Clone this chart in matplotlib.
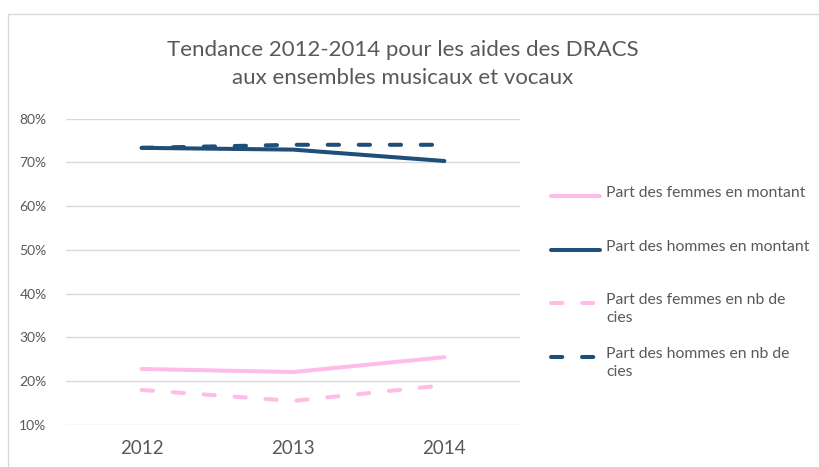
import matplotlib.pyplot as plt
from matplotlib.patches import Rectangle
from matplotlib.lines import Line2D

# data
years = ["2012", "2013", "2014"]
femmes_montant = [22.8, 22.1, 25.5]
hommes_montant = [73.3, 72.9, 70.3]
femmes_cies = [18.0, 15.5, 19.1]
hommes_cies = [73.3, 74.0, 74.0]
labels = ["Part des femmes en montant", "Part des hommes en montant",
          "Part des femmes en nb de\ncies", "Part des hommes en nb de\ncies"]

pink = "#FFBCE8"
blue = "#1F4E79"
grey_txt = "#595959"

plt.rcParams['font.family'] = ['Lato', 'DejaVu Sans']

W, H = 819, 467
fig = plt.figure(figsize=(W / 100, H / 100), dpi=100)
ax = fig.add_axes([0.0806, 0.0899, 0.5544, 0.6563])

# outer chart border
fig.patches.append(Rectangle((8 / W, -0.1), 1.1, 1 - 14 / H + 0.1,
                             transform=fig.transFigure, fill=False,
                             edgecolor="#D9D9D9", lw=1))

x = range(len(years))
lw = 2.9
dash = (2.8, 4.9)
series = [femmes_montant, hommes_montant, femmes_cies, hommes_cies]
colors = [pink, blue, pink, blue]
styles = [None, None, dash, dash]
lines = []
for vals, c, d, lab in zip(series, colors, styles, labels):
    if d is None:
        ln, = ax.plot(x, vals, color=c, lw=lw, solid_capstyle='round', label=lab)
    else:
        ln, = ax.plot(x, vals, color=c, lw=lw, dashes=d, dash_capstyle='round', label=lab)
    lines.append(ln)

ax.set_xlim(-0.5, 2.5)
ax.set_ylim(10, 80)
ax.set_yticks(range(10, 81, 10))
ax.set_yticklabels([f"{v}%" for v in range(10, 81, 10)], fontsize=10, color=grey_txt)
ax.set_xticks(list(x))
ax.set_xticklabels(years, fontsize=13.5, color=grey_txt)
ax.tick_params(length=0)
ax.tick_params(axis='y', pad=14)
ax.tick_params(axis='x', pad=11)
ax.grid(axis='y', color="#D9D9D9", lw=1)
ax.set_axisbelow(True)
for s in ax.spines.values():
    s.set_visible(False)

fig.text(403 / W, 1 - 64 / H, "Tendance 2012-2014 pour les aides des DRACS\naux ensembles musicaux et vocaux",
         ha='center', va='center', multialignment='center', fontsize=16,
         color=grey_txt, linespacing=1.55)

# legend (handle aligned with first text line, like the original)
leg_y = [196, 250, 303, 357]
for ln, lab, yy in zip(lines, labels, leg_y):
    yf = 1 - yy / H
    h = Line2D([551 / W, 600 / W], [yf, yf], transform=fig.transFigure,
               color=ln.get_color(), lw=lw, solid_capstyle='round',
               dash_capstyle='round')
    if ln.get_linestyle() != '-':
        h.set_dashes(dash)
    fig.add_artist(h)
    fig.text(606 / W, yf + 10 / H, lab, ha='left', va='top', fontsize=11.3,
             color=grey_txt, linespacing=1.4)

fig.savefig("out.png", dpi=100)
